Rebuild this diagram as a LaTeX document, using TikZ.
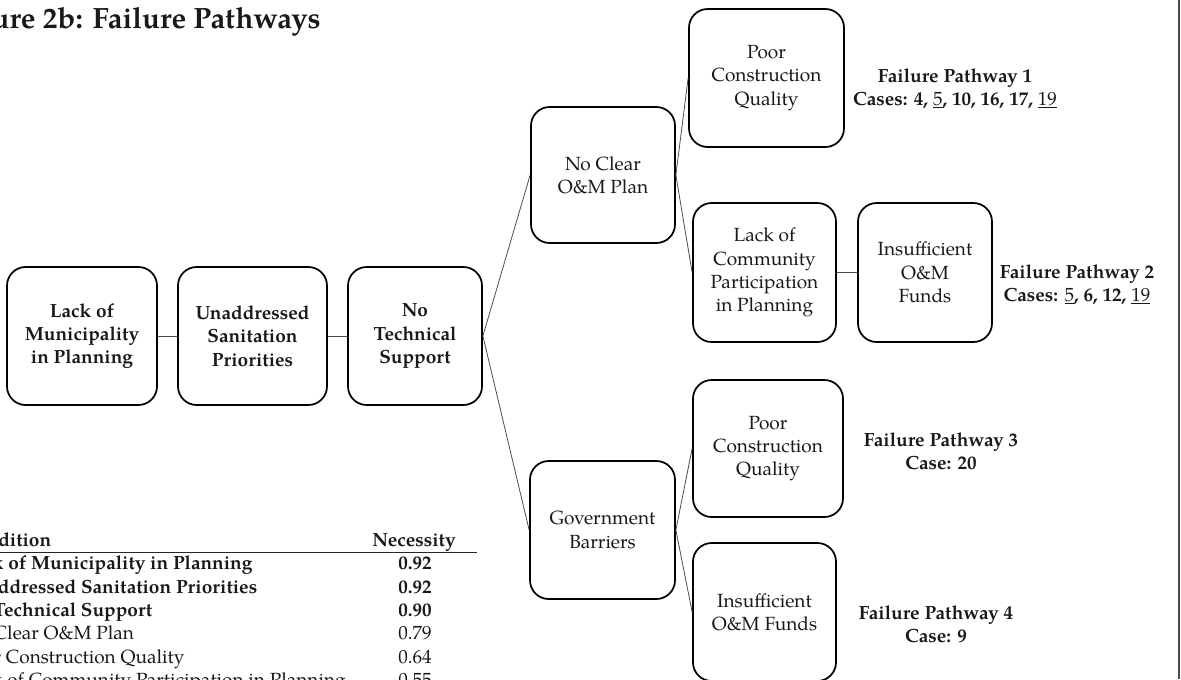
\documentclass[tikz,border=0pt]{standalone}
\usepackage{fontspec}
\setmainfont{texgyrepagella}[Extension=.otf,UprightFont=*-regular,BoldFont=*-bold,ItalicFont=*-italic,BoldItalicFont=*-bolditalic]
\newcommand{\ul}[1]{{\mdseries\underline{#1}}}
\begin{document}
\begin{tikzpicture}[x=0.75pt,y=-0.75pt,
  box/.style={draw=black, line width=1.3pt, rounded corners=14pt, align=center, inner sep=0pt,
    text=black!90, font=\fontsize{14.3}{17.5}\selectfont},
  boxb/.style={box, font=\fontsize{14.3}{17.5}\selectfont\bfseries},
  link/.style={draw=black!70, line width=0.6pt},
  lbl/.style={align=center, inner sep=0pt, text=black!90, font=\fontsize{14.3}{17.5}\selectfont\bfseries},
  tab/.style={inner sep=0pt, text=black!90, font=\fontsize{14.3}{17.5}\selectfont},
  tabb/.style={tab, font=\fontsize{14.3}{17.5}\selectfont\bfseries}]
\useasboundingbox (0,0) rectangle (1181,679);
% title
\node[anchor=base east, inner sep=0pt, text=black!90, font=\fontsize{22}{26}\selectfont\bfseries] (title) at (321,28) {Figure 2b: Failure Pathways};
% left chain
\node[boxb, minimum width=112.5pt, minimum height=103.5pt] (A) at (82,336) {Lack of\\Municipality\\in Planning};
\node[boxb, minimum width=111.75pt, minimum height=103.5pt] (B) at (252.5,336) {Unaddressed\\Sanitation\\Priorities};
\node[boxb, minimum width=100.5pt, minimum height=103.5pt] (C) at (415,336) {No\\Technical\\Support};
% branches
\node[box, minimum width=108pt, minimum height=102pt] (NC) at (603,175) {No Clear\\O\&M Plan};
\node[box, minimum width=116.25pt, minimum height=103.5pt] (P1) at (766.5,78) {Poor\\Construction\\Quality};
\node[box, minimum width=107.25pt, minimum height=104.25pt] (L) at (764.5,272.5) {Lack of\\Community\\Participation\\in Planning};
\node[box, minimum width=100.5pt, minimum height=104.25pt] (I1) at (925,272.5) {Insufficient\\O\&M\\Funds};
\node[box, minimum width=108.75pt, minimum height=103.5pt] (G) at (602.5,530) {Government\\Barriers};
\node[box, minimum width=112.5pt, minimum height=102.75pt] (P2) at (768,448.5) {Poor\\Construction\\Quality};
\node[box, minimum width=107.25pt, minimum height=103.5pt] (I2) at (764.5,612) {Insufficient\\O\&M Funds};
% connectors
\draw[link] (A.east) -- (B.west);
\draw[link] (B.east) -- (C.west);
\draw[link] (C.east) -- (NC.west);
\draw[link] (C.east) -- (G.west);
\draw[link] (NC.east) -- (P1.west);
\draw[link] (NC.east) -- (L.west);
\draw[link] (L.east) -- (I1.west);
\draw[link] (G.east) -- (P2.west);
\draw[link] (G.east) -- (I2.west);
% pathway labels
\node[lbl] (F1) at (955,88.5) {Failure Pathway 1\\Cases: 4, \ul{5}, 10, 16, 17, \ul{19}};
\node[lbl] (F2) at (1077,284.5) {Failure Pathway 2\\Cases: \ul{5}, 6, 12, \ul{19}};
\node[lbl] (F3) at (941,451.5) {Failure Pathway 3\\Case: 20};
\node[lbl] (F4) at (936,624.5) {Failure Pathway 4\\Case: 9};
% right frame
\draw[draw=black!70, line width=1.4pt] (1179,0) -- (1179,679);
% table
\node[tabb, anchor=base west] (th1) at (-38,546) {Condition};
\node[tabb, anchor=base] (th2) at (414,546) {Necessity};
\draw[draw=black!85, line width=0.9pt] (-40,552.5) -- (477,552.5);
\node[tabb, anchor=base west] (r1) at (-38,569) {Lack of Municipality in Planning};
\node[tabb, anchor=base] (v1) at (415,569) {0.92};
\node[tabb, anchor=base west] (r2) at (-38,593) {Unaddressed Sanitation Priorities};
\node[tabb, anchor=base] (v2) at (415,593) {0.92};
\node[tabb, anchor=base west] (r3) at (-38,616) {No Technical Support};
\node[tabb, anchor=base] (v3) at (415,616) {0.90};
\node[tab, anchor=base west] (r4) at (-37,639) {No Clear O\&M Plan};
\node[tab, anchor=base] (v4) at (415,639) {0.79};
\node[tab, anchor=base west] (r5) at (-38,663) {Poor Construction Quality};
\node[tab, anchor=base] (v5) at (415,663) {0.64};
\node[tab, anchor=base west] (r6) at (-38,686) {Lack of Community Participation in Planning};
\node[tab, anchor=base] (v6) at (415,686) {0.55};
\end{tikzpicture}
\end{document}
